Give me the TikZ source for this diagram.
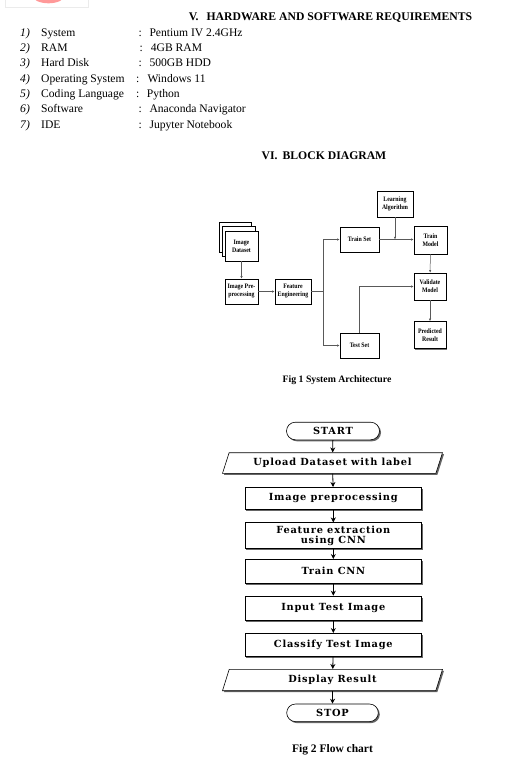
\documentclass[tikz,border=0pt]{standalone}
\usepackage{fontspec}
\setmainfont{Liberation Serif}
\newfontfamily\flowfont[LetterSpace=8]{DejaVu Serif}
\newfontfamily\blkfont[FakeStretch=0.86]{Liberation Serif}
\usetikzlibrary{shapes.geometric,shadows,arrows.meta}

\tikzset{
  item/.style={anchor=base west,inner sep=0pt,font=\fontsize{11.6}{13}\selectfont},
  blk/.style={draw,thin,fill=white,inner sep=1pt,align=center,
    font=\fontsize{6.8}{8}\blkfont\bfseries,
    drop shadow={shadow xshift=1.3pt,shadow yshift=-1.3pt,fill=black!55,opacity=1}},
  garrow/.style={draw=black!65,line width=0.5pt,-{Latex[length=2.6pt,width=2.2pt]}},
  fbox/.style={draw,line width=0.6pt,fill=white,minimum width=176.7pt,align=center,
    inner sep=1pt,font=\fontsize{9.8}{10}\flowfont\bfseries,
    drop shadow={shadow xshift=1.5pt,shadow yshift=-1.5pt,fill=black!60,opacity=1}},
  fio/.style={fbox,trapezium,trapezium left angle=60,trapezium right angle=120,
    trapezium stretches body,minimum width=220pt},
  fterm/.style={fbox,rounded corners=8.8pt,minimum height=17.6pt},
  farrow/.style={draw,line width=0.8pt,-{Stealth[length=5pt,width=5pt]}}
}

\begin{document}
\begin{tikzpicture}[x=1pt,y=-1pt]
  \useasboundingbox (0,0) rectangle (522,763);
  \fill[white] (0,0) rectangle (522,763);

  % logo left over at the top
  \begin{scope}
    \clip (0,0) rectangle (522,763);
    \draw[black!8] (5,-2) rectangle (88,6.7);
    \fill[red!40] (48.5,-5) ellipse (16.5 and 8.3);
  \end{scope}

  % requirements
  \node[anchor=base,inner sep=0pt,font=\fontsize{11.7}{13}\selectfont\bfseries] (hw) at (330.5,20)
    {V.\hspace{8pt}HARDWARE AND SOFTWARE REQUIREMENTS};

  \node[item] (n1) at (20,36) {\textit{1)}};
  \node[item] (k1) at (41,36) {System};
  \node[item] (c1) at (138.3,36) {:};
  \node[item] (v1) at (149.3,36) {Pentium IV 2.4GHz};

  \node[item] (n2) at (20,51.3) {\textit{2)}};
  \node[item] (k2) at (41,51.3) {RAM};
  \node[item] (c2) at (139.3,51.3) {:};
  \node[item] (v2) at (150.7,51.3) {4GB RAM};

  \node[item] (n3) at (20,66.7) {\textit{3)}};
  \node[item] (k3) at (41,66.7) {Hard Disk};
  \node[item] (c3) at (138.3,66.7) {:};
  \node[item] (v3) at (149.3,66.7) {500GB HDD};

  \node[item] (n4) at (20,82) {\textit{4)}};
  \node[item] (k4) at (41,82) {Operating System};
  \node[item] (c4) at (136,82) {:};
  \node[item] (v4) at (147.3,82) {Windows 11};

  \node[item] (n5) at (20,97.3) {\textit{5)}};
  \node[item] (k5) at (41,97.3) {Coding Language};
  \node[item] (c5) at (136,97.3) {:};
  \node[item] (v5) at (146.7,97.3) {Python};

  \node[item] (n6) at (20,112.7) {\textit{6)}};
  \node[item] (k6) at (41,112.7) {Software};
  \node[item] (c6) at (138.3,112.7) {:};
  \node[item] (v6) at (149.3,112.7) {Anaconda Navigator};

  \node[item] (n7) at (20,128) {\textit{7)}};
  \node[item] (k7) at (41,128) {IDE};
  \node[item] (c7) at (138.3,128) {:};
  \node[item] (v7) at (149.3,128) {Jupyter Notebook};

  \node[anchor=base,inner sep=0pt,font=\fontsize{11.7}{13}\selectfont\bfseries] (bd) at (324,159)
    {VI.\hspace{5pt}BLOCK DIAGRAM};

  % block diagram
  \node[blk,minimum width=32pt,minimum height=30pt] (ds1) at (235,237) {};
  \node[blk,minimum width=33pt,minimum height=30pt] (ds2) at (238.5,241) {};
  \node[blk,minimum width=33pt,minimum height=30pt] (ds) at (241.5,246) {Image\\Dataset};
  \node[blk,minimum width=33pt,minimum height=25pt] (prep) at (241.5,291.5) {Image Pre-\\processing};
  \node[blk,minimum width=36pt,minimum height=25pt] (feat) at (293,291.5) {Feature\\Engineering};
  \node[blk,minimum width=39pt,minimum height=25pt] (train) at (359.5,239.5) {Train Set};
  \node[blk,minimum width=39pt,minimum height=25pt] (test) at (359.5,345.5) {Test Set};
  \node[blk,minimum width=36pt,minimum height=26pt] (learn) at (395,204) {Learning\\Algorithm};
  \node[blk,minimum width=33pt,minimum height=28pt] (tmodel) at (430.5,240) {Train\\Model};
  \node[blk,minimum width=32pt,minimum height=27pt] (vmodel) at (430,286.5) {Validate\\Model};
  \node[blk,minimum width=32pt,minimum height=27pt] (pred) at (430,335) {Predicted\\Result};
  \coordinate (split) at (323,291.5);

  \draw[garrow] (ds) -- (prep);
  \draw[garrow] (prep) -- (feat);
  \draw[garrow] (feat.east) -- (split) |- (train.west);
  \draw[garrow] (split) |- (test.west);
  \draw[garrow] (train.east) -- (tmodel.west |- train.east);
  \draw[garrow] (learn) -- (learn |- train.east);
  \draw[garrow] (tmodel) -- (vmodel);
  \draw[garrow] (test.north) |- (vmodel.west);
  \draw[garrow] (vmodel) -- (pred);

  \node[inner sep=0pt,font=\fontsize{9.8}{11}\selectfont\bfseries] (fig1) at (337,380)
    {Fig 1 System Architecture};

  % flow chart
  \node[fterm,minimum width=93pt] (start) at (333,431) {START};
  \node[fio,minimum height=20.6pt] (upload) at (332.5,463) {Upload Dataset with label};
  \node[fbox,minimum height=22pt] (prepro) at (333.3,498.3) {Image preprocessing};
  \node[fbox,minimum height=25.6pt,font=\fontsize{9.8}{9.8}\flowfont\bfseries] (extract) at (333.3,535.5)
    {Feature extraction\\using CNN};
  \node[fbox,minimum height=24pt] (cnn) at (333.3,571.3) {Train CNN};
  \node[fbox,minimum height=24pt] (input) at (333.3,608) {Input Test Image};
  \node[fbox,minimum height=23.4pt] (classify) at (333.3,645) {Classify Test Image};
  \node[fio,minimum height=21.4pt] (display) at (332.5,680) {Display Result};
  \node[fterm,minimum width=91.6pt] (stop) at (332.5,712.8) {STOP};

  \draw[farrow] (start) -- (upload);
  \draw[farrow] (upload) -- (prepro);
  \draw[farrow] (prepro) -- (extract);
  \draw[farrow] (extract) -- (cnn);
  \draw[farrow] (cnn) -- (input);
  \draw[farrow] (input) -- (classify);
  \draw[farrow] (classify) -- (display);
  \draw[farrow] (display) -- (stop);

  \node[inner sep=0pt,font=\fontsize{11.5}{13}\selectfont\bfseries] (fig2) at (332.5,750)
    {Fig 2 Flow chart};
\end{tikzpicture}
\end{document}
